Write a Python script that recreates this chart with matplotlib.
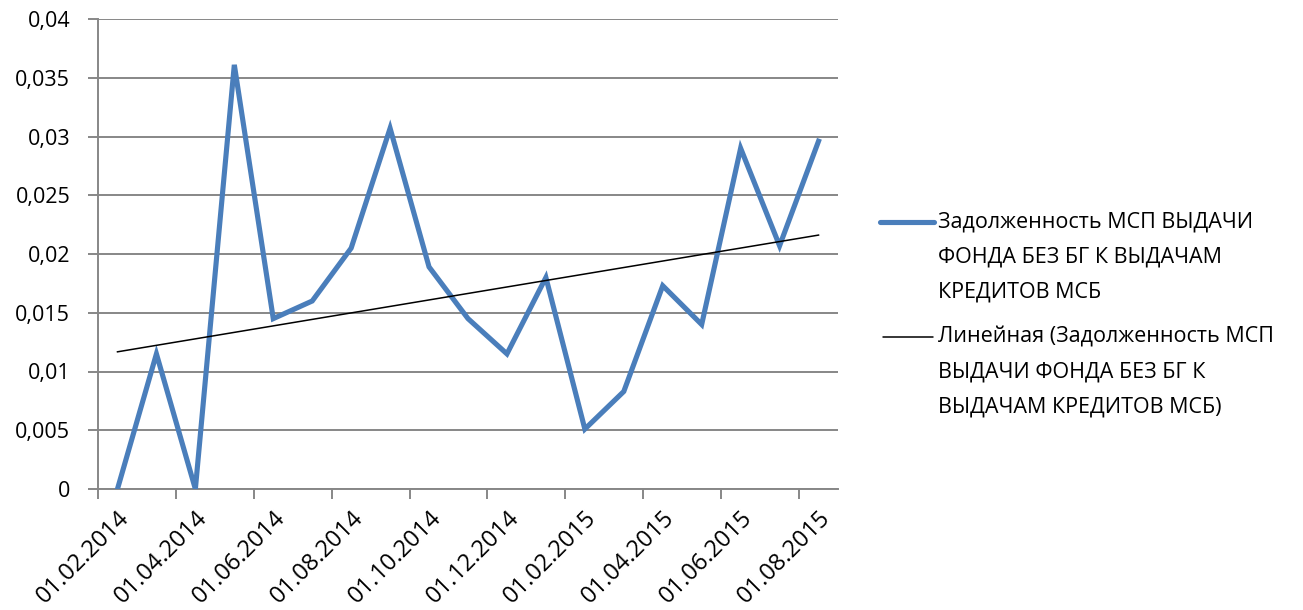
import numpy as np
import matplotlib
matplotlib.use("Agg")
import matplotlib.pyplot as plt
from matplotlib.lines import Line2D

dates = ["01.02.2014", "01.03.2014", "01.04.2014", "01.05.2014", "01.06.2014",
         "01.07.2014", "01.08.2014", "01.09.2014", "01.10.2014", "01.11.2014",
         "01.12.2014", "01.01.2015", "01.02.2015", "01.03.2015", "01.04.2015",
         "01.05.2015", "01.06.2015", "01.07.2015", "01.08.2015"]
values = [0.0, 0.0115, 0.0, 0.0361, 0.0145, 0.0160, 0.0205, 0.0307, 0.0189,
          0.0145, 0.0115, 0.0180, 0.0051, 0.0083, 0.0173, 0.0140, 0.0290,
          0.0207, 0.0296]
yticks = [0, 0.005, 0.01, 0.015, 0.02, 0.025, 0.03, 0.035, 0.04]
ytick_labels = ["0", "0,005", "0,01", "0,015", "0,02", "0,025", "0,03", "0,035", "0,04"]
series_label = ["Задолженность МСП ВЫДАЧИ", "ФОНДА БЕЗ БГ К ВЫДАЧАМ", "КРЕДИТОВ МСБ"]
trend_label = ["Линейная (Задолженность МСП", "ВЫДАЧИ ФОНДА БЕЗ БГ К", "ВЫДАЧАМ КРЕДИТОВ МСБ)"]

plt.rcParams['font.family'] = ['Open Sans', 'DejaVu Sans']
FS = 15.5
FS_X = 17.0
W, H = 1303, 610
BLUE = "#4A7EBB"
GRID = "#878787"

fig = plt.figure(figsize=(W/100, H/100), dpi=100)
ax = fig.add_axes([98/W, 1-489/H, (838-98)/W, (489-19)/H])

x = np.arange(len(values))
ax.plot(x, values, color=BLUE, lw=3.7, solid_joinstyle='miter', zorder=3)
coef = np.polyfit(x, values, 1)
ax.plot(x, np.polyval(coef, x), color="black", lw=1.1, zorder=4)

ax.set_xlim(-0.5, len(values) - 0.5)
ax.set_ylim(0, 0.04)
ax.set_yticks(yticks)
ax.set_yticklabels(ytick_labels, fontsize=FS)
ax.yaxis.grid(True, color=GRID, lw=1.4)
ax.set_axisbelow(True)

ax.set_xticks(np.arange(-0.5, len(values) - 0.5, 2))
ax.set_xticklabels([])
ax.set_xticks(x[::2], minor=True)
ax.set_xticklabels([dates[i] for i in x[::2]], minor=True, rotation=45,
                   ha='right', va='top', rotation_mode='anchor', fontsize=FS_X)
ax.tick_params(axis='x', which='minor', length=0, pad=12)
ax.tick_params(axis='x', which='major', length=7, width=1.4, color=GRID)
ax.tick_params(axis='y', length=7, width=1.4, color=GRID, pad=13)

for s in ['top', 'right']:
    ax.spines[s].set_visible(False)
for s in ['left', 'bottom']:
    ax.spines[s].set_color(GRID)
    ax.spines[s].set_linewidth(1.4)

# legend (Excel style: handle aligned with first line of label)
def legend_entry(y0, lines, color, lw, x0=880, x1=934):
    fig.add_artist(Line2D([x0/W, x1/W], [1-y0/H, 1-y0/H], color=color, lw=lw,
                          solid_capstyle='round', transform=fig.transFigure))
    for i, t in enumerate(lines):
        fig.text(938/W, 1-(y0 + 35*i)/H, t, fontsize=FS, ha='left', va='center')

legend_entry(222, series_label, BLUE, 3.7)
legend_entry(337, trend_label, "black", 1.1, x0=883, x1=933)

fig.savefig("out.png", dpi=100)
